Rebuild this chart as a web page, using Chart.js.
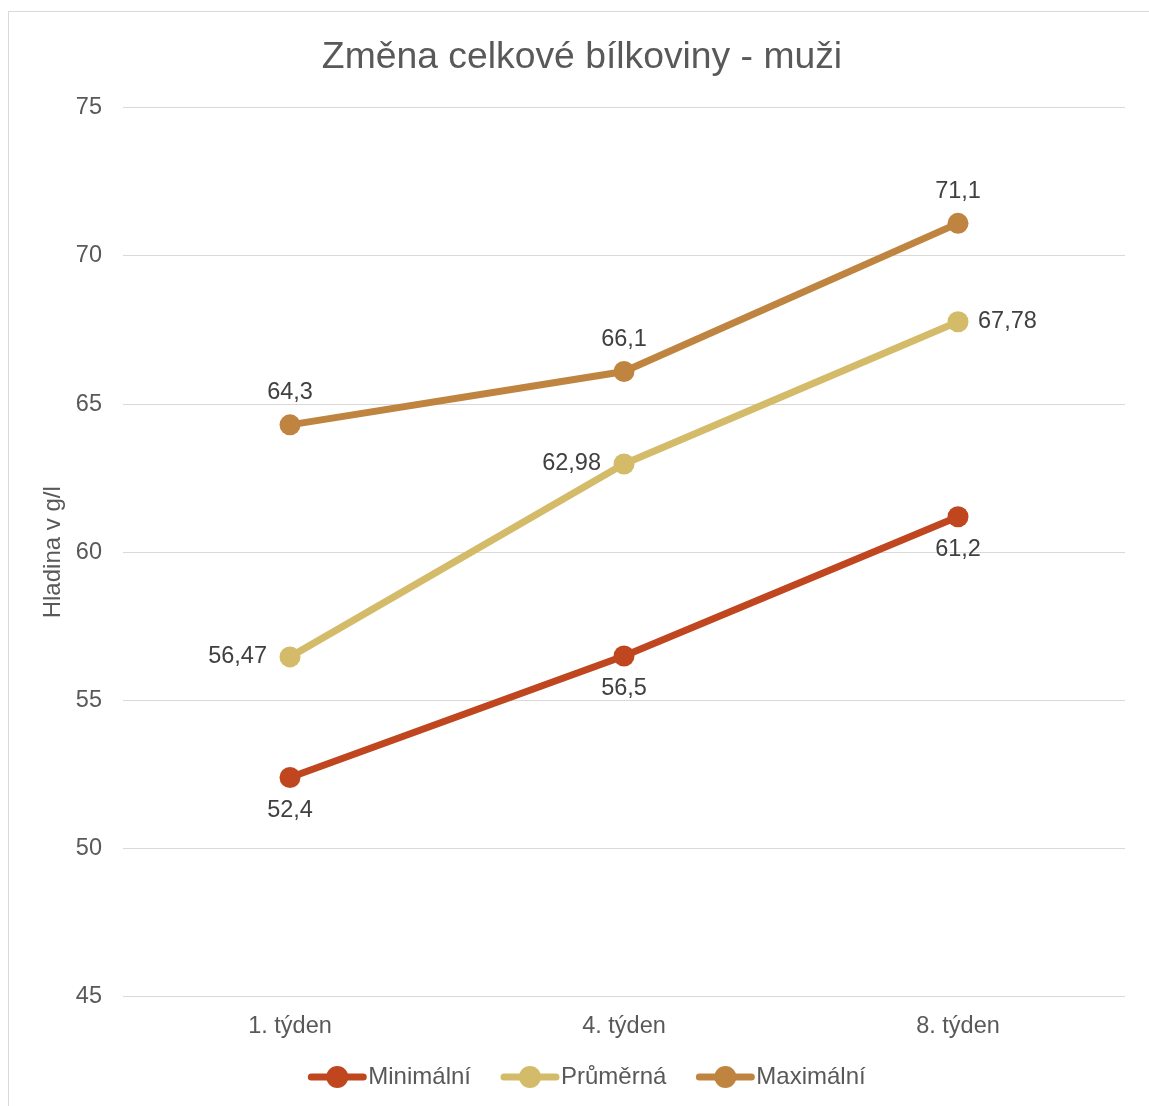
<!DOCTYPE html>
<html>
<head>
<meta charset="utf-8">
<script src="https://cdn.jsdelivr.net/npm/chart.js@4"></script>
<style>
  html, body { margin: 0; padding: 0; background: #fff; overflow: hidden; }
  #wrap { position: relative; width: 1149px; height: 1106px; }
  #frame { position: absolute; left: 8px; top: 11px; width: 1200px; height: 1200px; border: 1px solid #d9d9d9; box-sizing: border-box; }
  canvas { position: absolute; left: 0; top: 0; }
</style>
</head>
<body>
<div id="wrap">
  <div id="frame"></div>
  <canvas id="proteinChart" width="1149" height="1106"></canvas>
</div>
<script>
const weeks = ['1. týden', '4. týden', '8. týden'];
const minimal = [52.4, 56.5, 61.2];
const average = [56.47, 62.98, 67.78];
const maximal = [64.3, 66.1, 71.1];
const yTicks = [45, 50, 55, 60, 65, 70, 75];

const colors = ['#C0461F', '#D4BB69', '#BF8540'];
// where each series puts its value labels
const labelSides = [
    ['below', 'below', 'below'],
    ['left', 'left', 'right'],
    ['above', 'above', 'above']
];

const FONT = '"Liberation Sans", Arial, sans-serif';
const TEXT = '#595959';

const valueLabels = {
    id: 'valueLabels',
    afterDatasetsDraw(chart) {
        const ctx = chart.ctx;
        ctx.save();
        ctx.font = '23.5px ' + FONT;
        ctx.fillStyle = '#404040';
        chart.data.datasets.forEach((ds, i) => {
            chart.getDatasetMeta(i).data.forEach((pt, j) => {
                const text = String(ds.data[j]).replace('.', ',');
                const side = labelSides[i][j];
                let x = pt.x, y = pt.y;
                ctx.textBaseline = 'middle';
                ctx.textAlign = 'center';
                if (side === 'above') y -= 32;
                else if (side === 'below') y += 33;
                else if (side === 'left') { x -= 23; ctx.textAlign = 'right'; }
                else { x += 20; ctx.textAlign = 'left'; }
                ctx.fillText(text, x, y);
            });
        });
        ctx.restore();
    }
};

// legend row: line-with-marker icon followed by the series name
const lineLegend = {
    id: 'lineLegend',
    afterDraw(chart) {
        const ctx = chart.ctx;
        const iconW = 58, gap = 2, spacing = 30, y = 1077;
        ctx.save();
        ctx.font = '24px ' + FONT;
        const items = chart.data.datasets.map((ds, i) => ({
            text: ds.label, color: colors[i], w: ctx.measureText(ds.label).width
        }));
        const total = items.reduce((s, it) => s + iconW + gap + it.w, 0) + spacing * (items.length - 1);
        let x = 587 - total / 2;
        items.forEach(it => {
            ctx.strokeStyle = it.color;
            ctx.fillStyle = it.color;
            ctx.lineWidth = 7;
            ctx.lineCap = 'round';
            ctx.beginPath();
            ctx.moveTo(x + 3, y);
            ctx.lineTo(x + iconW - 3, y);
            ctx.stroke();
            ctx.beginPath();
            ctx.arc(x + iconW / 2, y, 11, 0, Math.PI * 2);
            ctx.fill();
            ctx.fillStyle = TEXT;
            ctx.textAlign = 'left';
            ctx.textBaseline = 'middle';
            ctx.fillText(it.text, x + iconW + gap, y);
            x += iconW + gap + it.w + spacing;
        });
        ctx.restore();
    }
};

const series = [
    { label: 'Minimální', data: minimal },
    { label: 'Průměrná', data: average },
    { label: 'Maximální', data: maximal }
];

new Chart(document.getElementById('proteinChart'), {
    type: 'line',
    data: {
        labels: weeks,
        datasets: series.map((s, i) => ({
            label: s.label,
            data: s.data,
            borderColor: colors[i],
            backgroundColor: colors[i],
            borderWidth: 7,
            pointRadius: 10.5,
            pointHoverRadius: 10.5,
            pointBorderWidth: 0,
            tension: 0,
            order: 3 - i
        }))
    },
    options: {
        responsive: false,
        animation: false,
        layout: { padding: { left: 39, right: 24, top: 0, bottom: 57 } },
        plugins: {
            title: {
                display: true,
                text: 'Změna celkové bílkoviny - muži',
                color: TEXT,
                font: { family: FONT, size: 37.3, weight: 'normal' },
                padding: { top: 35, bottom: 28 }
            },
            legend: { display: false },
            tooltip: { enabled: false }
        },
        scales: {
            x: {
                offset: true,
                grid: { display: false },
                border: { display: false },
                ticks: {
                    color: TEXT,
                    padding: 8,
                    font: { family: FONT, size: 23.5 }
                }
            },
            y: {
                min: yTicks[0],
                max: yTicks[yTicks.length - 1],
                afterBuildTicks(scale) {
                    scale.ticks = yTicks.map(v => ({ value: v }));
                },
                afterFit(scale) { scale.width = 84; },
                grid: { color: '#d9d9d9', lineWidth: 1, drawTicks: false },
                border: { display: false },
                ticks: {
                    color: TEXT,
                    padding: 21,
                    font: { family: FONT, size: 23.5 }
                },
                title: {
                    display: true,
                    text: 'Hladina v g/l',
                    color: TEXT,
                    padding: { top: 0, bottom: 0 },
                    font: { family: FONT, size: 24 }
                }
            }
        }
    },
    plugins: [valueLabels, lineLegend]
});
</script>
</body>
</html>
